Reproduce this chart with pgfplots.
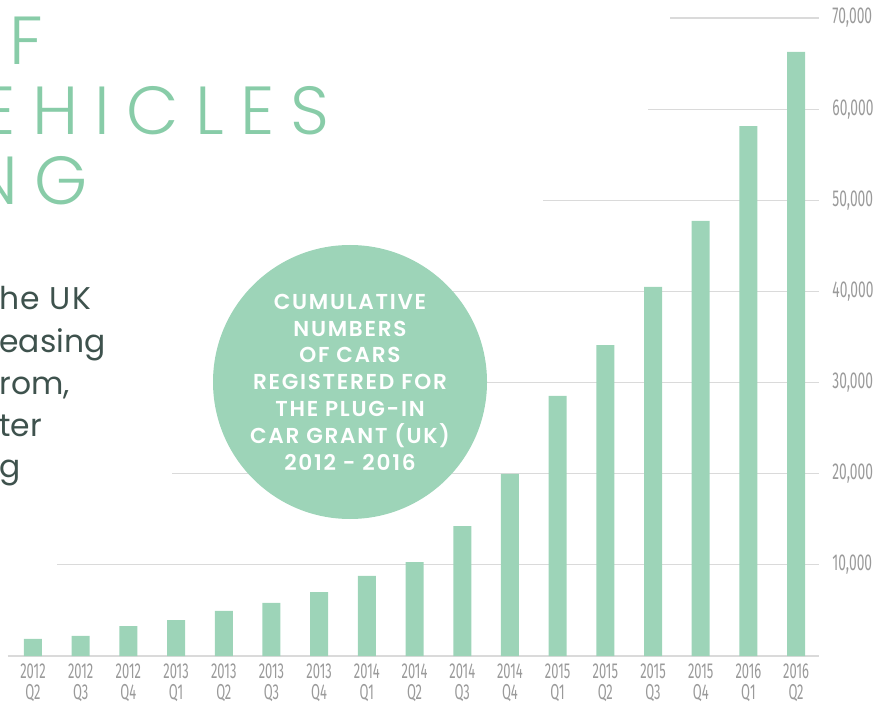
\documentclass[border=0pt]{standalone}
\usepackage{fontspec}
\usepackage{pgfplots}
\pgfplotsset{compat=1.18}
\setmainfont{Poppins}
\newfontfamily\condfont[FakeStretch=0.6]{Fira Sans}
\IfFontExistsTF{Poppins Light}{\newfontfamily\titlefont[LetterSpace=24]{Poppins Light}}{\newfontfamily\titlefont[LetterSpace=24]{Poppins}}
\IfFontExistsTF{Poppins SemiBold}{\newfontfamily\circfont[LetterSpace=8]{Poppins SemiBold}}{\newfontfamily\circfont[LetterSpace=8]{Poppins}}
\definecolor{barcol}{HTML}{9DD4B8}
\definecolor{titlecol}{HTML}{88CCA8}
\definecolor{bodycol}{HTML}{3E524D}
\definecolor{tickcol}{HTML}{9A9A9A}
\definecolor{gridcol}{HTML}{DADADA}
\begin{document}
\begin{tikzpicture}[x=0.5pt,y=0.5pt]
\useasboundingbox (0,0) rectangle (888,702);
\clip (0,0) rectangle (888,702);
% partial gridlines (px coordinates, y from bottom)
\begin{scope}[gridcol, line width=0.6pt]
\draw (57,137.14) -- (819,137.14);
\draw (172,228.29) -- (819,228.29);
\draw (350,319.43) -- (819,319.43);
\draw (350,410.57) -- (819,410.57);
\draw (543,501.71) -- (819,501.71);
\draw (648,592.86) -- (819,592.86);
\draw (670,684.0) -- (819,684.0);
\end{scope}
\begin{axis}[
  at={(4pt,23pt)}, anchor=south west,
  width=405.5pt, height=319pt, scale only axis,
  xmin=-0.524, xmax=16.48, ymin=0, ymax=70000,
  ybar, bar width=9pt,
  axis x line*=bottom, axis y line*=right,
  x axis line style={draw=gridcol, line width=1pt, -},
  y axis line style={draw=none},
  xtick=data, ytick={10000,20000,30000,40000,50000,60000,70000},
  major tick length=0pt,
  xticklabels={{2012\\Q2},{2012\\Q3},{2012\\Q4},{2013\\Q1},{2013\\Q2},{2013\\Q3},{2013\\Q4},{2014\\Q1},{2014\\Q2},{2014\\Q3},{2014\\Q4},{2015\\Q1},{2015\\Q2},{2015\\Q3},{2015\\Q4},{2016\\Q1},{2016\\Q2}},
  xticklabel style={font=\condfont\fontsize{10.8}{10.4}\selectfont, text=tickcol, align=center, anchor=north, inner sep=0pt, yshift=-3.6pt},
  yticklabel pos=right,
  yticklabel style={font=\condfont\fontsize{11.5}{12}\selectfont, text=tickcol, anchor=west, inner sep=0pt, xshift=6.5pt},
  /pgf/number format/assume math mode=true,
  /pgf/number format/1000 sep={,},
  scaled y ticks=false,
]
\addplot[fill=barcol, draw=none] coordinates {
(0,1870) (1,2200) (2,3290) (3,3950) (4,4940) (5,5820) (6,7020) (7,8780) (8,10310)
(9,14260) (10,19970) (11,28530) (12,34120) (13,40490) (14,47730) (15,58150) (16,66280)};
\end{axis}
% circle
\fill[barcol] (350,320) circle [radius=68.5pt];
\node[text=white, align=center, font=\circfont\fontsize{10.8}{13.4}\selectfont] at (350,320)
 {CUMULATIVE\\NUMBERS\\OF CARS\\REGISTERED FOR\\THE PLUG-IN\\CAR GRANT (UK)\\2012 - 2016};
% title
\begin{scope}[every node/.style={text=titlecol, inner sep=0pt, font=\titlefont\fontsize{34}{34}\selectfont}]
\node[anchor=base east] at (43,637) {OF};
\node[anchor=base east] at (330,567) {VEHICLES};
\node[anchor=base east] at (88,497) {ING};
\end{scope}
% body text
\begin{scope}[every node/.style={text=bodycol, inner sep=0pt, font=\fontsize{15.7}{15.7}\selectfont}]
\node[anchor=base west] at (-1,392) {\addfontfeature{LetterSpace=4}he UK};
\node[anchor=base west] at (-1,350) {easing};
\node[anchor=base west] at (-1,307) {rom,};
\node[anchor=base west] at (-1,265) {ter};
\node[anchor=base west] at (-1,225) {g};
\end{scope}
\end{tikzpicture}
\end{document}
